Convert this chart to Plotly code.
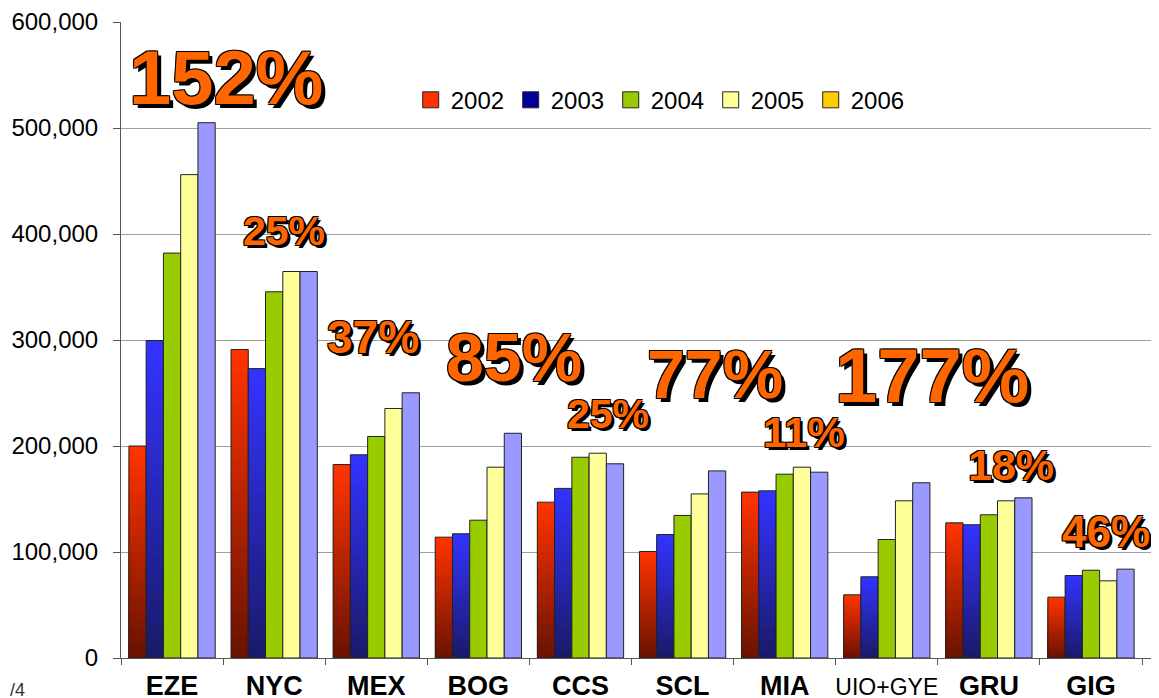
import plotly.graph_objects as go

# passengers per airport and year
airports = ["EZE", "NYC", "MEX", "BOG", "CCS", "SCL", "MIA", "UIO+GYE", "GRU", "GIG"]
years = ["2002", "2003", "2004", "2005", "2006"]
pax_2002 = [200000, 291000, 182500, 114000, 147000, 100500, 156500, 59600, 127500, 57400]
pax_2003 = [299500, 273000, 191700, 117200, 160000, 116500, 157700, 76600, 125700, 77800]
pax_2004 = [382000, 345500, 209000, 130000, 189400, 134500, 173400, 111800, 135100, 82800]
pax_2005 = [456000, 364600, 235400, 180000, 193200, 154800, 180000, 148300, 148300, 72800]
pax_2006 = [505000, 364600, 250200, 212000, 183200, 176500, 175300, 165300, 151100, 83800]

# growth 2002 -> 2006 labels: text, airport, y position (data units), x shift (px), font size
growth_labels = ["152%", "25%", "37%", "85%", "25%", "77%", "11%", "177%", "18%", "46%"]
label_y = [548000, 403000, 303000, 284000, 230000, 268000, 213000, 266500, 182500, 119500]
label_dx = [54, 10, -3, 36, 28, 32, 19, 45, 22, 15]
label_size = [76, 41, 46, 68, 41, 68, 42, 76, 43, 44]

series = [pax_2002, pax_2003, pax_2004, pax_2005, pax_2006]
legend_colors = ["#FF3300", "#000099", "#99CC00", "#FFFF99", "#FFCC00"]
# (top colour, bottom colour) - 2002/2003 bars fade to dark at the base
bar_colors = [("#FF3300", "#6B1300"), ("#3333FF", "#1A1A6B"),
              ("#99CC00", "#99CC00"), ("#FFFF99", "#FFFF99"), ("#9999FF", "#9999FF")]


def mix(c1, c2, t):
    a = [int(c1[i:i + 2], 16) for i in (1, 3, 5)]
    b = [int(c2[i:i + 2], 16) for i in (1, 3, 5)]
    return "rgb(%d,%d,%d)" % tuple(round(a[j] + (b[j] - a[j]) * t) for j in range(3))


fig = go.Figure()
steps = 28
for year, vals, (top, bottom) in zip(years, series, bar_colors):
    n = steps if top != bottom else 1
    for k in range(n):
        frac = (n - k) / n
        fig.add_trace(go.Bar(
            x=airports, y=[v * frac for v in vals],
            offsetgroup=year, showlegend=False, hoverinfo="skip",
            marker=dict(color=mix(top, bottom, k / max(n - 1, 1)), line=dict(width=0)),
        ))
    # outline on top
    fig.add_trace(go.Bar(
        x=airports, y=vals, offsetgroup=year, showlegend=False, name=year,
        marker=dict(color="rgba(0,0,0,0)", line=dict(color="#222222", width=1)),
    ))

# legend entries (the legend colours differ from the bars)
for year, col in zip(years, legend_colors):
    fig.add_trace(go.Scatter(
        x=[None], y=[None], mode="markers", name=year,
        marker=dict(symbol="square", size=16, color=col, line=dict(color="#222222", width=1)),
    ))

for txt, ap, yv, dx, sz in zip(growth_labels, airports, label_y, label_dx, label_size):
    off = 4 if sz > 60 else 3
    fig.add_annotation(
        x=ap, y=yv, xshift=dx, text=txt, showarrow=False,
        xanchor="center", yanchor="middle",
        font=dict(family="Liberation Sans, Arial", size=sz, color="#FF6600", weight="bold",
                  shadow="-1px -1px 0 #000, 1px -1px 0 #000, -1px 1px 0 #000, "
                         "1px 1px 0 #000, %dpx %dpx 0 #000" % (off, off)),
    )

fig.add_annotation(x=-113 / 1031, y=-0.05, xref="paper", yref="paper", text="/4",
                   showarrow=False, xanchor="left", yanchor="middle",
                   font=dict(family="Liberation Sans", size=18, color="#333333"))

tick_text = ["<b>%s</b>" % a if "+" not in a else
             '<span style="font-size:23px">%s</span>' % a
             for a in airports]

fig.update_layout(
    width=1151, height=690,
    margin=dict(l=113, r=7, t=14, b=40),
    paper_bgcolor="white", plot_bgcolor="white",
    barmode="group", bargap=0.155, bargroupgap=0,
    font=dict(family="Liberation Sans, Arial", color="black"),
    showlegend=True,
    legend=dict(orientation="h", x=0.281, y=0.877, xanchor="left", yanchor="middle",
                font=dict(size=24), bgcolor="rgba(0,0,0,0)",
                entrywidth=55, entrywidthmode="pixels", itemclick=False),
    xaxis=dict(type="category", tickmode="array", tickvals=airports, ticktext=tick_text,
               tickson="boundaries", ticks="outside", ticklen=6, tickcolor="#555555",
               showline=True, linecolor="#555555", tickfont=dict(size=27),
               tickangle=0, automargin=False, ticklabelstandoff=4, showgrid=False),
    yaxis=dict(range=[0, 600000], tickvals=list(range(0, 600001, 100000)), tickformat=",",
               ticks="outside", ticklen=7, tickcolor="#555555", ticklabelstandoff=10,
               showline=True, linecolor="#555555", gridcolor="#A0A0A0", gridwidth=1,
               zeroline=False, tickfont=dict(size=24), automargin=False),
)

fig.write_html("out.html")
